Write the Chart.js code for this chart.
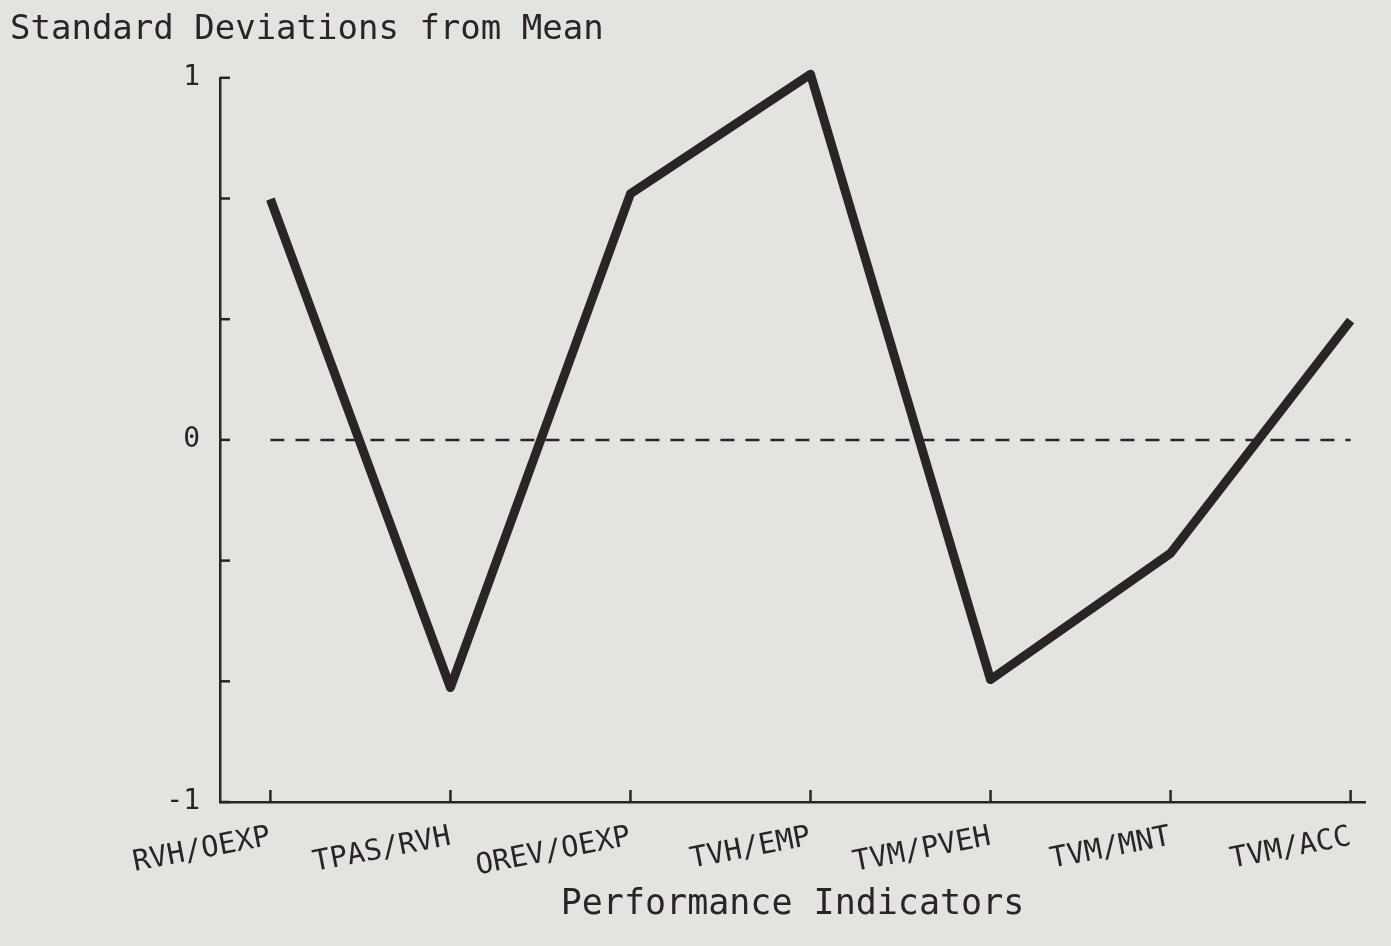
<!DOCTYPE html>
<html>
<head>
<meta charset="utf-8">
<script src="https://cdn.jsdelivr.net/npm/chart.js@4"></script>
<style>
  html, body { margin: 0; padding: 0; background: #e3e3e0; }
  #wrap { width: 1391px; height: 946px; }
</style>
</head>
<body>
<div id="wrap"><canvas id="graph"></canvas></div>
<script>
// categories and values
const indicators = ['RVH/OEXP', 'TPAS/RVH', 'OREV/OEXP', 'TVH/EMP', 'TVM/PVEH', 'TVM/MNT', 'TVM/ACC'];
const stdDevs = [0.665, -0.684, 0.68, 1.01, -0.662, -0.313, 0.33];
const zeroLine = [0, 0, 0, 0, 0, 0, 0];
const yTickLabels = { '-1': '-1', '0': '0', '1': '1' };

const ink = '#2a2426';

// small ticks pointing into the plot, like the pen plotter drew them
const innerTicks = {
    id: 'innerTicks',
    afterDraw(chart) {
        const ctx = chart.ctx;
        const x = chart.scales.x, y = chart.scales.y;
        ctx.save();
        ctx.strokeStyle = ink;
        ctx.lineWidth = 2.5;
        y.ticks.forEach(t => {
            const py = y.getPixelForValue(t.value);
            ctx.beginPath();
            ctx.moveTo(x.left, py);
            ctx.lineTo(x.left + 10, py);
            ctx.stroke();
        });
        x.ticks.forEach(t => {
            const px = x.getPixelForValue(t.value);
            ctx.beginPath();
            ctx.moveTo(px, y.bottom);
            ctx.lineTo(px, y.bottom - 12);
            ctx.stroke();
        });
        ctx.restore();
    }
};

const ctx = document.getElementById('graph').getContext('2d');
const chart = new Chart(ctx, {
    type: 'line',
    data: {
        labels: indicators,
        datasets: [{
            label: 'Std dev',
            data: stdDevs.map((v, i) => ({ x: i, y: v })),
            borderColor: ink,
            borderWidth: 9,
            borderJoinStyle: 'round',
            pointRadius: 0,
            tension: 0,
            clip: false
        }, {
            label: 'Mean',
            data: zeroLine.map((v, i) => ({ x: i, y: v })),
            borderColor: ink,
            borderWidth: 2.5,
            borderDash: [14, 11],
            pointRadius: 0,
            tension: 0
        }]
    },
    options: {
        responsive: true,
        maintainAspectRatio: false,
        animation: false,
        layout: { padding: { left: 10, right: 26, top: 0, bottom: 0 } },
        plugins: {
            legend: { display: false },
            tooltip: { enabled: false },
            title: {
                display: true,
                text: 'Standard Deviations from Mean',
                align: 'start',
                color: ink,
                font: { family: 'DejaVu Sans Mono', size: 34, weight: 'normal' },
                padding: { top: 10, bottom: 27 }
            }
        },
        scales: {
            x: {
                type: 'linear',
                min: -0.28,
                max: 6.08,
                afterFit(scale) { scale.height = 144; },
                afterBuildTicks(scale) {
                    scale.ticks = indicators.map((_, i) => ({ value: i }));
                },
                ticks: {
                    color: ink,
                    font: { family: 'DejaVu Sans Mono', size: 29 },
                    minRotation: 11,
                    maxRotation: 11,
                    padding: 18,
                    callback: (v) => indicators[v]
                },
                grid: { display: false, drawTicks: false },
                border: { display: true, color: ink, width: 2.5 },
                title: {
                    display: true,
                    text: 'Performance Indicators',
                    color: ink,
                    font: { family: 'DejaVu Sans Mono', size: 35 },
                    padding: { top: 0, bottom: 20 }
                }
            },
            y: {
                min: -1,
                max: 1,
                afterFit(scale) { scale.width = 210; },
                afterBuildTicks(scale) {
                    scale.ticks = [-1, -2/3, -1/3, 0, 1/3, 2/3, 1].map(v => ({ value: v }));
                },
                ticks: {
                    color: ink,
                    font: { family: 'DejaVu Sans Mono', size: 28 },
                    padding: 20,
                    callback: (v) => {
                        const k = String(Math.round(v));
                        return Math.abs(v - Math.round(v)) < 1e-6 ? yTickLabels[k] : '';
                    }
                },
                grid: { display: false, drawTicks: false },
                border: { display: true, color: ink, width: 2.5 }
            }
        }
    },
    plugins: [innerTicks]
});
</script>
</body>
</html>
